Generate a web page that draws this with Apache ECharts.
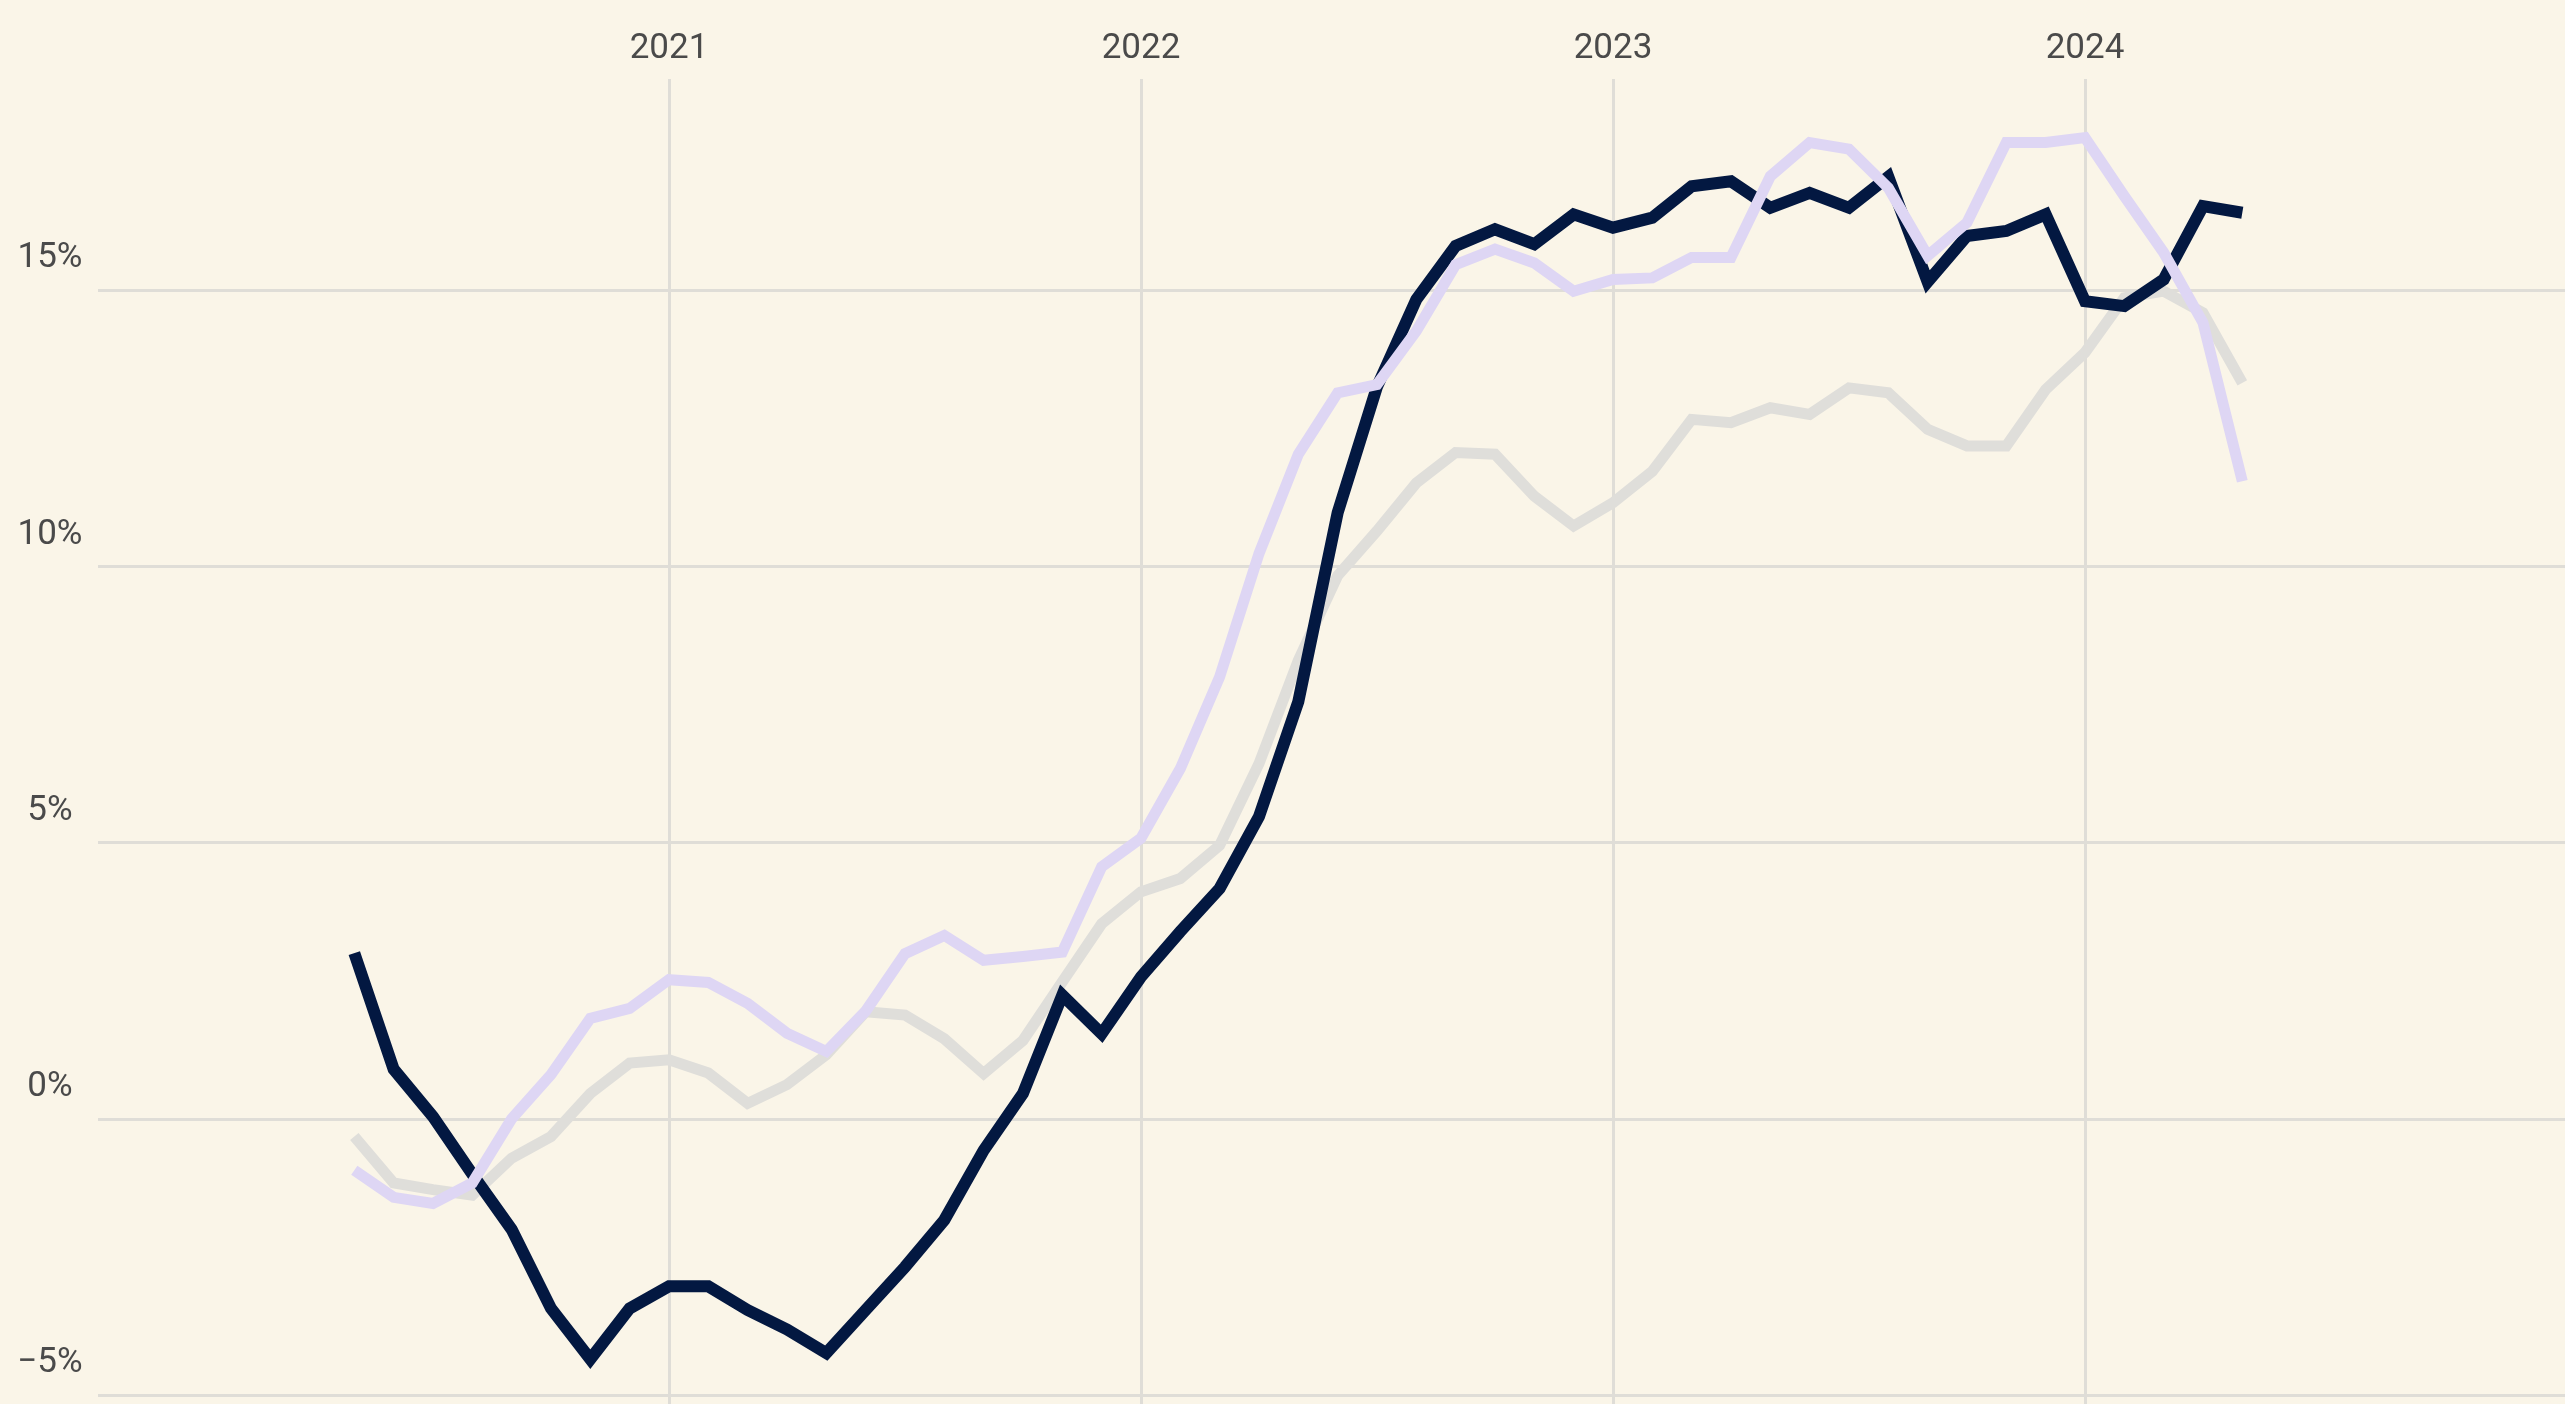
<!DOCTYPE html>
<html>
<head>
<meta charset="utf-8">
<script src="https://cdn.jsdelivr.net/npm/echarts@6/dist/echarts.min.js"></script>
<style>
  html, body { margin: 0; padding: 0; background: #faf5e8; }
  #chart { width: 2565px; height: 1404px; }
</style>
</head>
<body>
<div id="chart"></div>
<script>
// monthly points, May 2020 .. May 2024
const months = [
  '2020-05', '2020-06', '2020-07', '2020-08', '2020-09', '2020-10', '2020-11', '2020-12',
  '2021-01', '2021-02', '2021-03', '2021-04', '2021-05', '2021-06', '2021-07', '2021-08',
  '2021-09', '2021-10', '2021-11', '2021-12', '2022-01', '2022-02', '2022-03', '2022-04',
  '2022-05', '2022-06', '2022-07', '2022-08', '2022-09', '2022-10', '2022-11', '2022-12',
  '2023-01', '2023-02', '2023-03', '2023-04', '2023-05', '2023-06', '2023-07', '2023-08',
  '2023-09', '2023-10', '2023-11', '2023-12', '2024-01', '2024-02', '2024-03', '2024-04',
  '2024-05'
]

const navyValues = [
  3.0, 0.9, 0.04, -1.0, -2.0, -3.43, -4.35, -3.43,
  -3.03, -3.03, -3.46, -3.81, -4.24, -3.46, -2.68, -1.83,
  -0.57, 0.46, 2.24, 1.54, 2.57, 3.39, 4.17, 5.47,
  7.55, 10.97, 13.25, 14.83, 15.8, 16.1, 15.83, 16.37,
  16.13, 16.31, 16.88, 16.97, 16.49, 16.76, 16.49, 17.05,
  15.15, 15.98, 16.07, 16.37, 14.8, 14.71, 15.19, 16.52,
  16.4
]

const lavenderValues = [
  -0.93, -1.42, -1.53, -1.16, 0.0, 0.8, 1.82, 2.0,
  2.52, 2.47, 2.09, 1.55, 1.22, 1.95, 2.99, 3.32,
  2.87, 2.94, 3.02, 4.56, 5.08, 6.34, 8.0, 10.23,
  12.03, 13.14, 13.29, 14.26, 15.46, 15.74, 15.49, 14.98,
  15.19, 15.22, 15.59, 15.59, 17.06, 17.67, 17.55, 16.85,
  15.62, 16.22, 17.67, 17.67, 17.76, 16.7, 15.68, 14.41,
  11.54
]

const greyValues = [
  -0.32, -1.16, -1.28, -1.38, -0.71, -0.32, 0.46, 1.01,
  1.07, 0.83, 0.28, 0.62, 1.16, 1.94, 1.88, 1.45,
  0.82, 1.42, 2.48, 3.53, 4.11, 4.35, 4.95, 6.43,
  8.3, 9.83, 10.64, 11.51, 12.06, 12.03, 11.27, 10.73,
  11.15, 11.72, 12.66, 12.6, 12.87, 12.75, 13.23, 13.14,
  12.48, 12.18, 12.18, 13.2, 13.87, 14.86, 14.98, 14.59,
  13.32
]

const yearLabels = [2021, 2022, 2023, 2024]
const pctTicks = [-5, 0, 5, 10, 15]

// 'YYYY-MM' -> decimal year, so the value axis can place it
function toYear (m) {
  const parts = m.split('-')
  return Number(parts[0]) + (Number(parts[1]) - 1) / 12
}

function pairs (values) {
  return months.map((m, i) => [toYear(m), values[i]])
}

const gridColor = '#dfddd7'
const textColor = '#4a4a4a'
const font = 'Roboto, "Noto Sans", sans-serif'

const chart = echarts.init(document.getElementById('chart'))

chart.setOption({
  backgroundColor: '#faf5e8',
  animation: false,
  grid: { left: 98, right: 0, top: 79, bottom: 0, containLabel: false },
  xAxis: {
    type: 'value',
    position: 'top',
    min: 2019.7903,
    max: 2025.017,
    axisLine: { show: false },
    axisTick: { show: false },
    splitLine: {
      show: true,
      showMinLine: false,
      showMaxLine: false,
      lineStyle: {
        width: 3,
        color: ['transparent', gridColor, gridColor, gridColor, gridColor, 'transparent']
      }
    },
    axisLabel: {
      showMinLabel: false,
      showMaxLabel: false,
      margin: 12,
      color: textColor,
      fontFamily: font,
      fontSize: 35,
      formatter: v => (yearLabels.indexOf(Math.round(v * 1000) / 1000) >= 0 ? String(v) : '')
    }
  },
  yAxis: {
    type: 'value',
    min: -5.16,
    max: 18.82,
    axisLine: { show: false },
    axisTick: { show: false },
    splitLine: {
      show: true,
      showMinLine: false,
      showMaxLine: false,
      lineStyle: { width: 3, color: gridColor }
    },
    axisLabel: {
      showMinLabel: false,
      showMaxLabel: false,
      align: 'center',
      verticalAlign: 'bottom',
      margin: 48,
      padding: [0, 0, 14, 0],
      color: textColor,
      fontFamily: font,
      fontSize: 35,
      formatter: v => {
        if (pctTicks.indexOf(v) < 0) return ''
        return (v < 0 ? '\u2212' + Math.abs(v) : String(v)) + '%'
      }
    }
  },
  series: [
    {
      name: 'grey',
      type: 'line',
      data: pairs(greyValues),
      symbol: 'none',
      silent: true,
      lineStyle: { color: '#dfdeda', width: 11, join: 'miter', cap: 'butt' }
    },
    {
      name: 'navy',
      type: 'line',
      data: pairs(navyValues),
      symbol: 'none',
      silent: true,
      lineStyle: { color: '#031841', width: 12, join: 'miter', cap: 'butt' }
    },
    {
      name: 'lavender',
      type: 'line',
      data: pairs(lavenderValues),
      symbol: 'none',
      silent: true,
      lineStyle: { color: '#ded6f4', width: 11, join: 'miter', cap: 'butt' }
    }
  ]
})
</script>
</body>
</html>
